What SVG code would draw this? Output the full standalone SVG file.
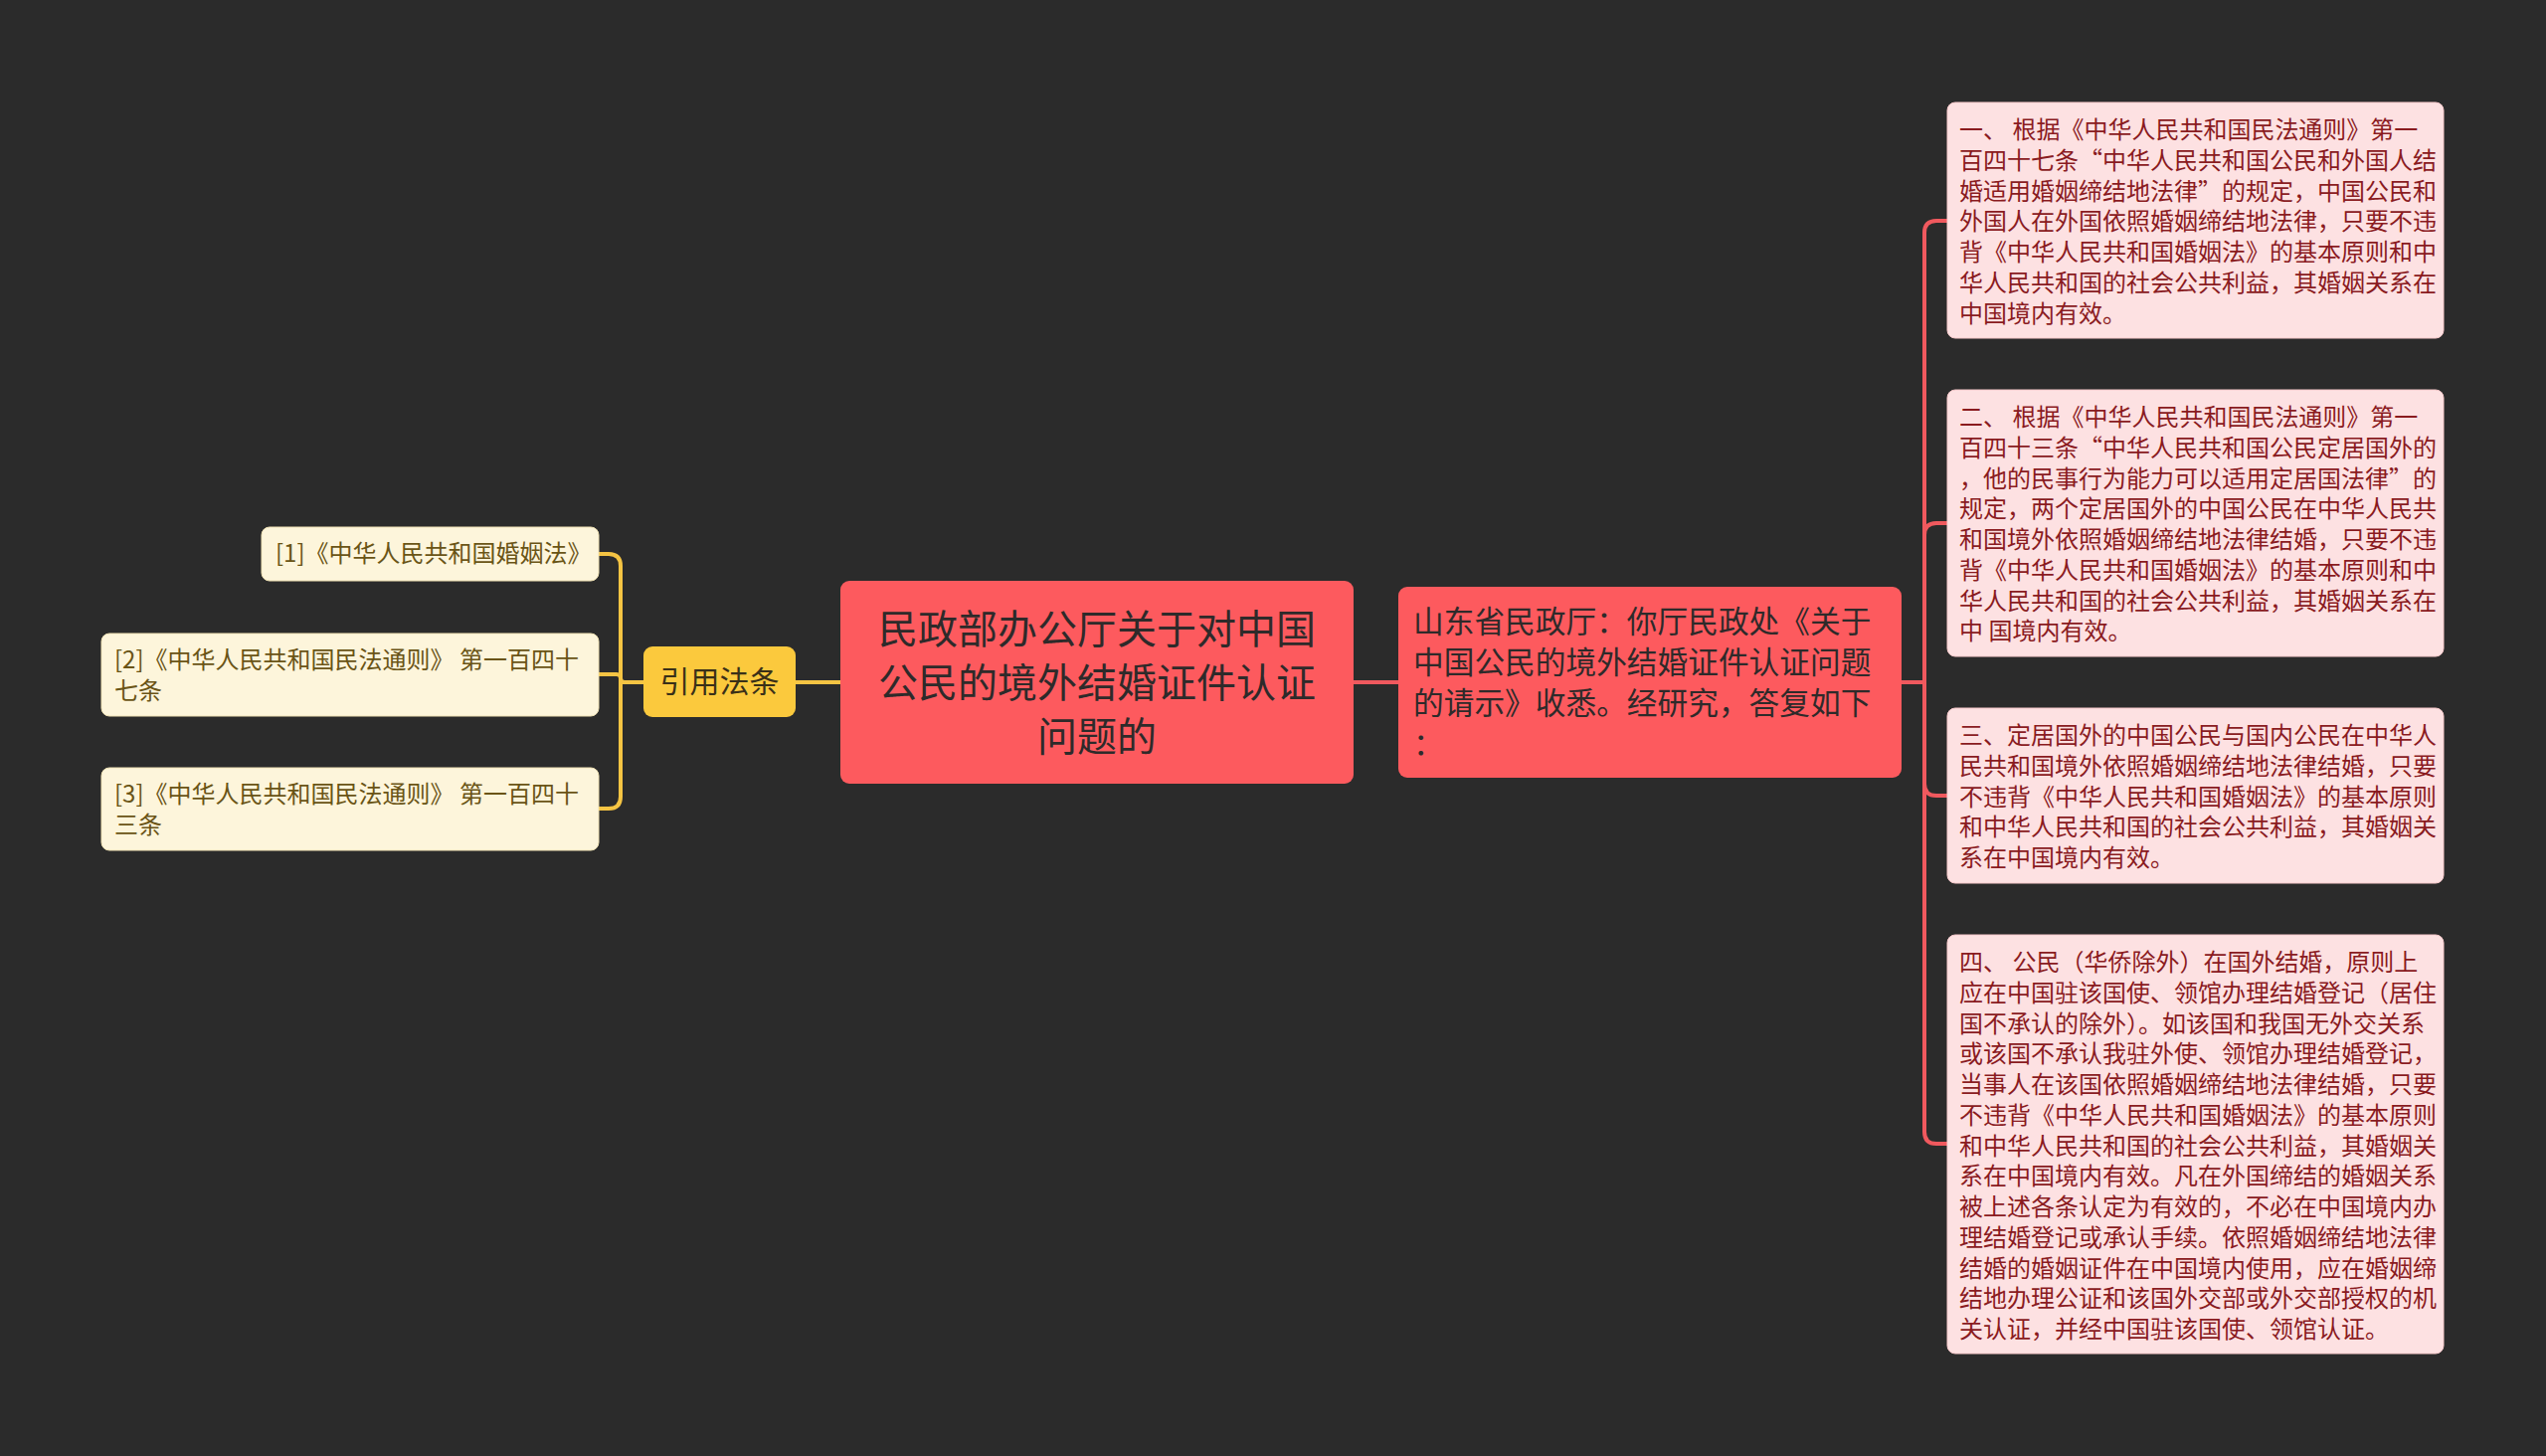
<svg xmlns="http://www.w3.org/2000/svg" width="2560" height="1464" viewBox="0 0 2560 1464">
<style>
text { font-family: "Noto Sans CJK SC", "Noto Sans", sans-serif; }
.red-line { fill: none; stroke: #f0595e; stroke-width: 4; }
.yel-line { fill: none; stroke: #f5c443; stroke-width: 4; }
.root { fill: #fd5a5e; }
.root-t { font-size: 40px; fill: #2e2a2a; text-anchor: middle; }
.sub { fill: #fd5a5e; }
.sub-t { font-size: 30.7px; fill: #2e2a2a; }
.leaf { fill: #fde1e2; stroke: #f7c9cb; stroke-width: 1; }
.leaf-t { font-size: 24px; fill: #8a1b1f; }
.cite { fill: #fbc93d; }
.cite-t { font-size: 30px; fill: #3a3018; text-anchor: middle; }
.ref { fill: #fdf5db; stroke: #f1e3b6; stroke-width: 1; }
.ref-t { font-size: 24px; fill: #6a5416; }
</style>
<rect x="0" y="0" width="2560" height="1464" fill="#2b2b2b"/>

<g id="connectors">
  <path class="red-line" d="M1361,686 H1406"/>
  <path class="red-line" d="M1912,686 H1935 V234 Q1935,222 1947,222 H1958"/>
  <path class="red-line" d="M1912,686 H1935 V538 Q1935,526 1947,526 H1958"/>
  <path class="red-line" d="M1912,686 H1935 V788 Q1935,800 1947,800 H1958"/>
  <path class="red-line" d="M1912,686 H1935 V1138 Q1935,1150 1947,1150 H1958"/>
  <path class="yel-line" d="M845,686 H800"/>
  <path class="yel-line" d="M647,686 H624 V569 Q624,557 612,557 H602"/>
  <path class="yel-line" d="M647,686 H628 Q624,686 624,682 Q624,678 620,678 H602"/>
  <path class="yel-line" d="M647,686 H624 V801 Q624,813 612,813 H602"/>
</g>

<g id="root">
  <rect class="root" x="845" y="584" width="516" height="204" rx="9"/>
  <text class="root-t"><tspan x="1103" y="647">民政部办公厅关于对中国</tspan><tspan x="1103" y="701">公民的境外结婚证件认证</tspan><tspan x="1103" y="755">问题的</tspan></text>
</g>

<g id="node-shandong">
  <rect class="sub" x="1406" y="590" width="506" height="192" rx="9"/>
  <text class="sub-t"><tspan x="1421" y="636">山东省民政厅：你厅民政处《关于</tspan><tspan x="1421" y="677">中国公民的境外结婚证件认证问题</tspan><tspan x="1421" y="718">的请示》收悉。经研究，答复如下</tspan><tspan x="1421" y="759">：</tspan></text>
</g>

<g id="node-1">
  <rect class="leaf" x="1958" y="103" width="499" height="237" rx="8"/>
  <text class="leaf-t"><tspan x="1970" y="139">一、 根据《中华人民共和国民法通则》第一</tspan><tspan x="1970" y="169.75">百四十七条“中华人民共和国公民和外国人结</tspan><tspan x="1970" y="200.5">婚适用婚姻缔结地法律”的规定，中国公民和</tspan><tspan x="1970" y="231.25">外国人在外国依照婚姻缔结地法律，只要不违</tspan><tspan x="1970" y="262">背《中华人民共和国婚姻法》的基本原则和中</tspan><tspan x="1970" y="292.75">华人民共和国的社会公共利益，其婚姻关系在</tspan><tspan x="1970" y="323.5">中国境内有效。</tspan></text>
</g>

<g id="node-2">
  <rect class="leaf" x="1958" y="392" width="499" height="268" rx="8"/>
  <text class="leaf-t"><tspan x="1970" y="428">二、 根据《中华人民共和国民法通则》第一</tspan><tspan x="1970" y="458.75">百四十三条“中华人民共和国公民定居国外的</tspan><tspan x="1970" y="489.5">，他的民事行为能力可以适用定居国法律”的</tspan><tspan x="1970" y="520.25">规定，两个定居国外的中国公民在中华人民共</tspan><tspan x="1970" y="551">和国境外依照婚姻缔结地法律结婚，只要不违</tspan><tspan x="1970" y="581.75">背《中华人民共和国婚姻法》的基本原则和中</tspan><tspan x="1970" y="612.5">华人民共和国的社会公共利益，其婚姻关系在</tspan><tspan x="1970" y="643.25">中 国境内有效。</tspan></text>
</g>

<g id="node-3">
  <rect class="leaf" x="1958" y="712" width="499" height="176" rx="8"/>
  <text class="leaf-t"><tspan x="1970" y="748">三、定居国外的中国公民与国内公民在中华人</tspan><tspan x="1970" y="778.75">民共和国境外依照婚姻缔结地法律结婚，只要</tspan><tspan x="1970" y="809.5">不违背《中华人民共和国婚姻法》的基本原则</tspan><tspan x="1970" y="840.25">和中华人民共和国的社会公共利益，其婚姻关</tspan><tspan x="1970" y="871">系在中国境内有效。</tspan></text>
</g>

<g id="node-4">
  <rect class="leaf" x="1958" y="940" width="499" height="421" rx="8"/>
  <text class="leaf-t"><tspan x="1970" y="976">四、 公民（华侨除外）在国外结婚，原则上</tspan><tspan x="1970" y="1006.75">应在中国驻该国使、领馆办理结婚登记（居住</tspan><tspan x="1970" y="1037.5">国不承认的除外）。如该国和我国无外交关系</tspan><tspan x="1970" y="1068.25">或该国不承认我驻外使、领馆办理结婚登记，</tspan><tspan x="1970" y="1099">当事人在该国依照婚姻缔结地法律结婚，只要</tspan><tspan x="1970" y="1129.75">不违背《中华人民共和国婚姻法》的基本原则</tspan><tspan x="1970" y="1160.5">和中华人民共和国的社会公共利益，其婚姻关</tspan><tspan x="1970" y="1191.25">系在中国境内有效。凡在外国缔结的婚姻关系</tspan><tspan x="1970" y="1222">被上述各条认定为有效的，不必在中国境内办</tspan><tspan x="1970" y="1252.75">理结婚登记或承认手续。依照婚姻缔结地法律</tspan><tspan x="1970" y="1283.5">结婚的婚姻证件在中国境内使用，应在婚姻缔</tspan><tspan x="1970" y="1314.25">结地办理公证和该国外交部或外交部授权的机</tspan><tspan x="1970" y="1345">关认证，并经中国驻该国使、领馆认证。</tspan></text>
</g>

<g id="node-cite">
  <rect class="cite" x="647" y="650" width="153" height="71" rx="9"/>
  <text class="cite-t" x="723.5" y="696">引用法条</text>
</g>

<g id="ref-1">
  <rect class="ref" x="263" y="530" width="339" height="54" rx="8"/>
  <text class="ref-t" x="277" y="565">[1]《中华人民共和国婚姻法》</text>
</g>

<g id="ref-2">
  <rect class="ref" x="102" y="637" width="500" height="83" rx="8"/>
  <text class="ref-t"><tspan x="115" y="672">[2]《中华人民共和国民法通则》 第一百四十</tspan><tspan x="115" y="703">七条</tspan></text>
</g>

<g id="ref-3">
  <rect class="ref" x="102" y="772" width="500" height="83" rx="8"/>
  <text class="ref-t"><tspan x="115" y="807">[3]《中华人民共和国民法通则》 第一百四十</tspan><tspan x="115" y="838">三条</tspan></text>
</g>
</svg>
